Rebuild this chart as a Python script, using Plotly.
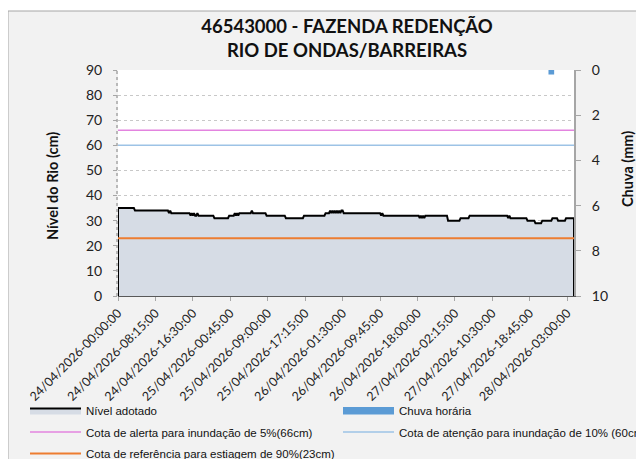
import pandas as pd
import plotly.graph_objects as go

# ---------------- data ----------------
title_lines = ["46543000 - FAZENDA REDENÇÃO", "RIO DE ONDAS/BARREIRAS"]
start_time = "2026-04-24 00:00"
step = "15min"

# river level (cm), run-length encoded
level_values = [35, 34, 33, 34, 33,
                32, 33, 32, 33, 32, 33, 32,
                32, 31, 32,
                33, 32, 33, 32, 33,
                33, 34, 33, 32, 31, 32, 33,
                34, 33, 34, 33, 34, 33, 34, 33, 34, 33, 34, 33,
                33, 32, 33, 32, 32,
                31, 32, 31, 32, 31,
                32, 30, 31, 32, 31, 32, 31, 31, 30, 29, 30, 31, 30, 31]
level_counts = [15, 30, 1, 1, 17,
                1, 1, 1, 1, 2, 1, 1,
                13, 13, 5,
                1, 1, 1, 1, 1,
                10, 1, 12, 17, 16, 19, 4,
                1, 1, 1, 1, 1, 1, 1, 1, 1, 1, 2, 2,
                31, 1, 1, 3, 29,
                1, 1, 1, 1, 1,
                20, 11, 8, 34, 1, 1, 1, 14, 7, 6, 9, 5, 7, 8]

# hourly rain (mm)
rain_times = ["27/04/2026-23:30:00"]
rain_mm = [0.2]

alert_cm = 66
attention_cm = 60
drought_cm = 23

series_names = ["Nível adotado", "Chuva horária",
                "Cota de alerta para inundação de 5%(66cm)",
                "Cota de atenção para inundação de 10% (60cm)",
                "Cota de referência para estiagem de 90%(23cm)"]
y_title = "Nível do Rio (cm)"
y2_title = "Chuva (mm)"
label_every = 33

# ---------------- build ----------------
times = pd.date_range(start_time, periods=sum(level_counts), freq=step)
categories = [t.strftime("%d/%m/%Y-%H:%M:%S") for t in times]
level = [v for v, c in zip(level_values, level_counts) for _ in range(c)]
n = len(categories)
tickvals = categories[::label_every]

# layout geometry (the page body adds an 8px offset)
W, H = 644, 459
OFF = 8
PLOT_X0, PLOT_X1, PLOT_Y0, PLOT_Y1 = 118, 574, 70, 296   # page pixels
L, R = PLOT_X0 - OFF, W - (PLOT_X1 - OFF)
T, B = PLOT_Y0 - OFF, H - (PLOT_Y1 - OFF)
pw, ph = PLOT_X1 - PLOT_X0, PLOT_Y1 - PLOT_Y0


def px(x):
    return (x - PLOT_X0) / pw


def py(y):
    return (PLOT_Y1 - y) / ph


def cx(x):
    return (x - OFF) / W


def cy(y):
    return 1 - (y - OFF) / H


C_AREA = "#D6DCE5"
C_RAIN = "#5B9BD5"
C_ALERT = "#E384DF"
C_ATT = "#9DC3E6"
C_DRY = "#ED7D31"

fig = go.Figure()

# river level area (closed to zero so the outline shows on the sides)
fig.add_trace(go.Scatter(
    x=[categories[0]] + categories + [categories[-1]],
    y=[0] + level + [0],
    mode="lines", fill="toself", fillcolor=C_AREA,
    line=dict(color="black", width=2), name=series_names[0], showlegend=False))

fig.add_trace(go.Bar(
    x=rain_times, y=rain_mm, yaxis="y2", width=5,
    marker=dict(color=C_RAIN, line=dict(width=0)), name=series_names[1], showlegend=False))

fig.add_trace(go.Scatter(x=categories, y=[alert_cm] * n, mode="lines",
                         line=dict(color=C_ALERT, width=1.5), name=series_names[2],
                         legend="legend", legendgroup="g3"))
fig.add_trace(go.Scatter(x=categories, y=[attention_cm] * n, mode="lines",
                         line=dict(color=C_ATT, width=1.5), name=series_names[3],
                         legend="legend2", legendgroup="g4"))
fig.add_trace(go.Scatter(x=categories, y=[drought_cm] * n, mode="lines",
                         line=dict(color=C_DRY, width=2), name=series_names[4],
                         legend="legend", legendgroup="g5"))

# legend entries for the area and the bars (wide patch like the original)
fig.add_trace(go.Scatter(x=[None], y=[None], mode="lines", fill="tozeroy", fillcolor=C_AREA,
                         line=dict(color="black", width=2), name=series_names[0],
                         legend="legend", legendgroup="g1", legendrank=1))
fig.add_trace(go.Scatter(x=[None], y=[None], mode="lines", fill="tozeroy", fillcolor=C_RAIN,
                         line=dict(color=C_RAIN, width=3), name=series_names[1],
                         legend="legend2", legendgroup="g2", legendrank=1))

tick_font = dict(family="Lato, Open Sans, sans-serif", size=14, color="#222")
leg_font = dict(family="Liberation Sans, Arial, sans-serif", size=11.5, color="#111")

fig.update_layout(
    width=W, height=H,
    margin=dict(l=L, r=R, t=T, b=B, autoexpand=False),
    paper_bgcolor="white", plot_bgcolor="white",
    showlegend=True,
    title=dict(text="<br>".join(title_lines), x=cx(347), xref="container", xanchor="center",
               y=cy(33), yref="container", yanchor="top",
               font=dict(family="Lato, Open Sans, sans-serif", size=18.5, color="#111",
                         weight="bold")),
    xaxis=dict(type="category", categoryorder="array", categoryarray=categories,
               range=[0, n - 1], tickmode="array", tickvals=tickvals, ticktext=tickvals,
               tickangle=-45, tickfont=dict(family="Lato, Open Sans, sans-serif", size=12.5, color="#222"),
               showgrid=False, showline=True, linecolor="#595959", linewidth=1,
               ticks="outside", ticklen=4, tickcolor="#A6A6A6", zeroline=False),
    yaxis=dict(range=[0, 90], dtick=10, tickfont=tick_font,
               showgrid=True, gridcolor="#C8C8C8", griddash="dot", gridwidth=1,
               showline=False, ticks="outside", ticklen=4, tickcolor="#A6A6A6",
               ticklabelstandoff=8, zeroline=False),
    yaxis2=dict(range=[10, 0], dtick=2, overlaying="y", side="right", tickfont=tick_font,
                showgrid=False, showline=True, linecolor="#A6A6A6", linewidth=2,
                ticks="outside", ticklen=5, tickcolor="#A6A6A6", ticklabelstandoff=8,
                zeroline=False),
    legend=dict(orientation="v", xref="container", yref="container",
                x=cx(25), xanchor="left", y=cy(396), yanchor="top",
                itemwidth=51, tracegroupgap=2.5, bgcolor="rgba(0,0,0,0)",
                traceorder="grouped", font=leg_font),
    legend2=dict(orientation="v", xref="container", yref="container",
                 x=cx(338), xanchor="left", y=cy(396), yanchor="top",
                 itemwidth=51, tracegroupgap=2.5, bgcolor="rgba(0,0,0,0)",
                 traceorder="grouped", font=leg_font),
    annotations=[
        dict(text=y_title, textangle=-90, x=px(52), y=py(186), xref="paper", yref="paper",
             showarrow=False, xanchor="center", yanchor="middle",
             font=dict(family="Lato, Open Sans, sans-serif", size=14.5, color="#111", weight="bold")),
        dict(text=y2_title, textangle=-90, x=px(627), y=py(169), xref="paper", yref="paper",
             showarrow=False, xanchor="center", yanchor="middle",
             font=dict(family="Lato, Open Sans, sans-serif", size=14.5, color="#111", weight="bold")),
    ],
    shapes=[
        dict(type="rect", xref="paper", yref="paper", x0=px(8), x1=px(639), y0=py(480), y1=py(11),
             fillcolor="#F2F2F2", line=dict(color="#A6A6A6", width=1), layer="below"),
        dict(type="rect", xref="paper", yref="paper", x0=0, x1=1, y0=0, y1=1,
             fillcolor="white", line=dict(width=0), layer="below"),
        dict(type="line", xref="paper", yref="paper", x0=px(117), x1=px(117), y0=0, y1=1,
             line=dict(color="#A6A6A6", width=1.5, dash="dot"), layer="below"),
    ],
)

fig.write_html("out.html")
